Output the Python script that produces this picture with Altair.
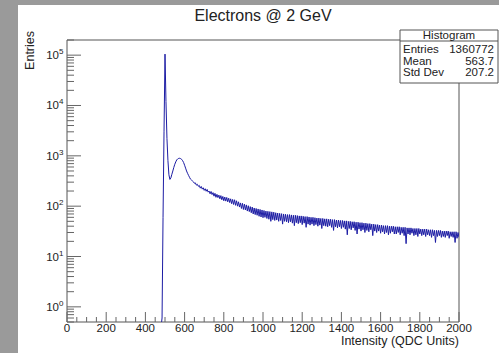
import altair as alt
import pandas as pd

# ---------------- data ----------------
# histogram contents every 5 QDC units, starting at 475
bin_start = 475
bin_step = 5
counts = [
    0.3, 0.4, 0.6, 60, 3000, 105000, 12000, 2200, 800, 420,
    340, 365, 430, 500, 590, 680, 760, 830, 870, 890,
    895, 880, 850, 800, 735, 650, 570, 500, 450, 410,
    375, 345, 330, 318, 305, 285, 290, 262, 272, 248,
    258, 228, 246, 218, 232, 206, 222, 198, 215, 190,
    200, 176, 196, 170, 186, 158, 180, 150, 172, 148,
    166, 140, 162, 134, 156, 128, 152, 126, 149, 122,
    144, 118, 140, 112, 136, 108, 134, 104, 128, 100,
    122, 96, 116, 90, 114, 86, 110, 84, 106, 80,
    102, 78, 98, 74, 96, 70, 92, 68, 90, 66,
    88, 63, 86, 61, 84, 59, 82, 60, 80, 57,
    79, 55, 78, 50, 77, 54, 76, 52, 74, 53,
    73, 50, 72, 52, 71, 44, 70, 50, 69, 49,
    68, 47, 68, 49, 67, 46, 66, 41, 66, 47,
    65, 45, 64, 47, 64, 43, 63, 46, 62, 38,
    62, 44, 61, 42, 60, 44, 60, 41, 59, 43,
    58, 40, 58, 42, 57, 36, 57, 41, 56, 40,
    56, 39, 55, 41, 55, 38, 54, 33, 54, 39,
    53, 37, 53, 39, 52, 36, 52, 38, 51, 35,
    51, 27, 50, 36, 50, 34, 49, 37, 49, 33,
    48, 28, 48, 35, 47, 32, 47, 34, 46, 30,
    46, 33, 45, 31, 45, 34, 44, 26, 44, 32,
    43, 30, 43, 32, 42, 29, 42, 31, 41, 28,
    41, 30, 41, 27, 40, 29, 40, 31, 40, 28,
    39, 28, 39, 30, 39, 27, 38, 29, 38, 26,
    38, 18, 37, 28, 37, 27, 37, 29, 36, 26,
    36, 27, 36, 25, 36, 28, 35, 26, 35, 27,
    35, 25, 35, 27, 34, 26, 34, 24, 34, 26,
    33, 19, 33, 25, 33, 26, 33, 24, 32, 25,
    32, 24, 32, 26, 32, 23, 31, 25, 31, 24,
    31, 19, 31, 23, 30, 24,
]
x_tick_labels = ["0", "200", "400", "600", "800", "1000", "1200", "1400",
                 "1600", "1800", "2000"]
y_decades = [1, 10, 100, 1000, 10000, 100000]
y_exponents = ["0", "1", "2", "3", "4", "5"]
stats_names = ["Entries", "Mean", "Std Dev"]
stats_values = ["1360772", "563.7", "207.2"]
title_text = "Electrons @ 2 GeV"
x_title = "Intensity (QDC Units)"
y_title = "Entries"

# ---------------- layout ----------------
LEFT, TOP, RIGHT, BOTTOM = 67, 40, 40, 31
W, H = 499 - LEFT - RIGHT, 353 - TOP - BOTTOM
FONT = "Liberation Sans"
TXT = "#222222"
TICK = "#666666"
FRAME = "#555555"
LINE = "#1c1ca4"

xscale = alt.Scale(domain=[0, 2000], nice=False, zero=False)
yscale = alt.Scale(type="log", domain=[0.5, 2e5], nice=False)

hist = pd.DataFrame({"x": [bin_start + bin_step * i for i in range(len(counts))],
                     "n": counts})
one = pd.DataFrame({"a": [0]})

x_major = [int(s) for s in x_tick_labels]
x_minor = [v for v in range(0, 2001, 50) if v not in x_major]
y_minor = [k * 10.0 ** p for p in range(-1, 6) for k in range(2, 10)
           if 0.5 <= k * 10.0 ** p <= 2e5]

canvas = alt.Chart(one).mark_rect(fill="white").encode(
    x=alt.value(18 - LEFT), x2=alt.value(499 - LEFT),
    y=alt.value(5 - TOP), y2=alt.value(353 - TOP))

frame = alt.Chart(one).mark_rect(filled=False, stroke=FRAME, strokeWidth=1).encode(
    x=alt.value(0), x2=alt.value(W), y=alt.value(0), y2=alt.value(H))

line = alt.Chart(hist).mark_line(clip=True, color=LINE, strokeWidth=1).encode(
    x=alt.X("x:Q", scale=xscale, axis=None),
    y=alt.Y("n:Q", scale=yscale, axis=None))

xmaj = alt.Chart(pd.DataFrame({"v": x_major})).mark_rule(color=TICK).encode(
    x=alt.X("v:Q", scale=xscale, axis=None), y=alt.value(H), y2=alt.value(H - 10))
xmin = alt.Chart(pd.DataFrame({"v": x_minor})).mark_rule(color=TICK).encode(
    x=alt.X("v:Q", scale=xscale, axis=None), y=alt.value(H), y2=alt.value(H - 5))
ymaj = alt.Chart(pd.DataFrame({"v": y_decades})).mark_rule(color=TICK).encode(
    y=alt.Y("v:Q", scale=yscale, axis=None), x=alt.value(0), x2=alt.value(14))
ymin = alt.Chart(pd.DataFrame({"v": y_minor})).mark_rule(color=TICK).encode(
    y=alt.Y("v:Q", scale=yscale, axis=None), x=alt.value(0), x2=alt.value(7))

xlab = alt.Chart(pd.DataFrame({"v": x_major, "t": x_tick_labels})).mark_text(
    font=FONT, fontSize=11.5, color=TXT, align="center", baseline="middle").encode(
    x=alt.X("v:Q", scale=xscale, axis=None), y=alt.value(H + 7), text="t:N")

ydf = pd.DataFrame({"v": y_decades, "e": y_exponents, "b": ["10"] * len(y_decades)})
ylab = alt.Chart(ydf).mark_text(
    font=FONT, fontSize=11.5, color=TXT, align="right", baseline="middle", dy=1).encode(
    y=alt.Y("v:Q", scale=yscale, axis=None), x=alt.value(-8), text="b:N")
yexp = alt.Chart(ydf).mark_text(
    font=FONT, fontSize=8, color=TXT, align="left", baseline="middle", dy=-3).encode(
    y=alt.Y("v:Q", scale=yscale, axis=None), x=alt.value(-8), text="e:N")

title = alt.Chart(one).mark_text(
    font=FONT, fontSize=16, color=TXT, align="center", baseline="alphabetic").encode(
    x=alt.value(W / 2), y=alt.value(21 - TOP), text=alt.value(title_text))
xtitle = alt.Chart(one).mark_text(
    font=FONT, fontSize=12.5, color=TXT, align="right", baseline="alphabetic").encode(
    x=alt.value(W), y=alt.value(345 - TOP), text=alt.value(x_title))
ytitle = alt.Chart(one).mark_text(
    font=FONT, fontSize=12.5, color=TXT, align="right", baseline="middle", angle=270).encode(
    x=alt.value(30 - LEFT), y=alt.value(31 - TOP), text=alt.value(y_title))

# statistics box
BX0, BX1, BY0, BY1 = 400 - LEFT, 498 - LEFT, 30 - TOP, 83 - TOP
box = alt.Chart(one).mark_rect(fill="white", stroke=FRAME, strokeWidth=1).encode(
    x=alt.value(BX0), x2=alt.value(BX1), y=alt.value(BY0), y2=alt.value(BY1))
sep = alt.Chart(one).mark_rule(color=FRAME, strokeWidth=1).encode(
    x=alt.value(BX0), x2=alt.value(BX1), y=alt.value(41 - TOP))
boxhead = alt.Chart(one).mark_text(
    font=FONT, fontSize=11.5, color=TXT, align="center", baseline="alphabetic").encode(
    x=alt.value((BX0 + BX1) / 2), y=alt.value(39 - TOP), text=alt.value("Histogram"))
sdf = pd.DataFrame({"name": stats_names, "val": stats_values,
                    "row": [0, 1, 2]})
row_y = alt.Scale(domain=[0, 2], range=[53 - TOP, 76 - TOP])
snames = alt.Chart(sdf).mark_text(
    font=FONT, fontSize=11.5, color=TXT, align="left", baseline="alphabetic").encode(
    x=alt.value(403 - LEFT), y=alt.Y("row:Q", scale=row_y, axis=None), text="name:N")
svals = alt.Chart(sdf).mark_text(
    font=FONT, fontSize=11.5, color=TXT, align="right", baseline="alphabetic").encode(
    x=alt.value(494 - LEFT), y=alt.Y("row:Q", scale=row_y, axis=None), text="val:N")

main = alt.layer(canvas, frame, line, xmaj, xmin, ymaj, ymin, xlab, ylab, yexp,
                 title, xtitle, ytitle)
stats = alt.layer(box, sep, boxhead, snames, svals)

chart = alt.layer(main, stats).resolve_scale(y="independent").properties(
    width=W, height=H, background="#9a9a9a",
    padding={"left": LEFT, "top": TOP, "right": RIGHT, "bottom": BOTTOM},
    autosize=alt.AutoSizeParams(type="none"),
).configure_view(stroke=None)

chart.save("out.html", embed_options={"renderer": "svg", "actions": False})
